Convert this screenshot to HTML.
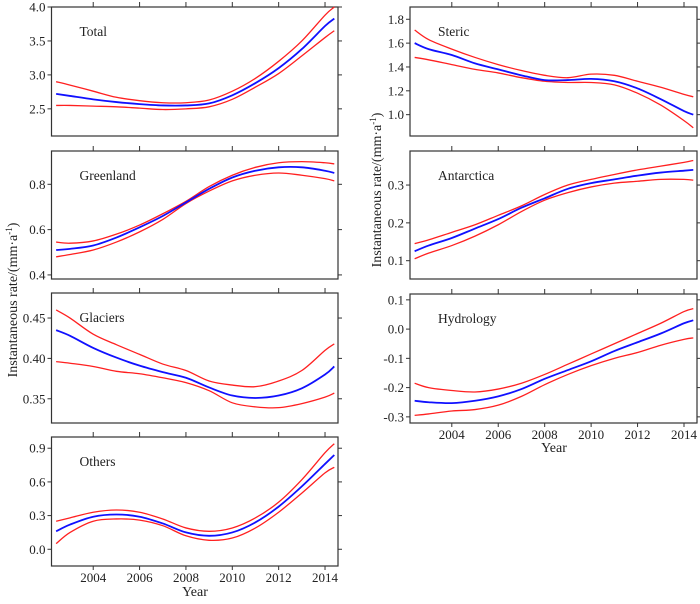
<!DOCTYPE html>
<html><head><meta charset="utf-8"><style>
body{margin:0;background:#fff;}
svg, svg text, svg tspan{font-family:"Liberation Serif","Times New Roman",serif !important;}
svg text{fill:#222;}
</style></head><body>
<svg id="c" width="700" height="599" viewBox="0 0 700 599" xmlns="http://www.w3.org/2000/svg" font-family="'Liberation Serif', serif" style="font-family:'Liberation Serif',serif">
<text transform="translate(17,300) rotate(-90)" text-anchor="middle" font-size="14">Instantaneous rate/(mm·a<tspan font-size="9" dy="-5">-1</tspan><tspan dy="5">)</tspan></text>
<text transform="translate(381,190) rotate(-90)" text-anchor="middle" font-size="14">Instantaneous rate/(mm·a<tspan font-size="9" dy="-5">-1</tspan><tspan dy="5">)</tspan></text>
<text x="195" y="596" text-anchor="middle" font-size="14">Year</text>
<text x="554" y="452" text-anchor="middle" font-size="14">Year</text>
</svg>
<script>
const years=[2002.4,2003,2004,2005,2006,2007,2008,2009,2010,2011,2012,2013,2014,2014.4];
const xTicks=[2004,2006,2008,2010,2012,2014];
const totalMid=[2.72,2.69,2.64,2.60,2.57,2.55,2.55,2.58,2.70,2.88,3.10,3.38,3.72,3.83];
const totalUp=[2.90,2.85,2.76,2.67,2.62,2.59,2.59,2.63,2.76,2.95,3.20,3.50,3.88,4.0];
const totalLo=[2.55,2.55,2.54,2.53,2.51,2.49,2.50,2.53,2.64,2.82,3.02,3.28,3.55,3.65];
const greenMid=[0.51,0.515,0.53,0.565,0.61,0.66,0.72,0.78,0.83,0.86,0.875,0.875,0.86,0.85];
const greenUp=[0.545,0.54,0.55,0.58,0.62,0.67,0.725,0.79,0.84,0.875,0.895,0.90,0.895,0.89];
const greenLo=[0.48,0.49,0.51,0.545,0.59,0.645,0.715,0.77,0.815,0.84,0.85,0.84,0.825,0.815];
const glacMid=[0.435,0.428,0.413,0.401,0.391,0.383,0.376,0.364,0.354,0.351,0.354,0.363,0.380,0.390];
const glacUp=[0.46,0.45,0.43,0.417,0.405,0.393,0.385,0.372,0.367,0.365,0.372,0.385,0.410,0.418];
const glacLo=[0.396,0.394,0.390,0.384,0.381,0.376,0.370,0.360,0.345,0.340,0.339,0.344,0.352,0.357];
const othMid=[0.16,0.22,0.29,0.31,0.29,0.23,0.15,0.12,0.15,0.24,0.38,0.56,0.76,0.84];
const othUp=[0.25,0.28,0.33,0.35,0.33,0.27,0.19,0.16,0.19,0.28,0.42,0.62,0.86,0.94];
const othLo=[0.05,0.15,0.25,0.27,0.26,0.21,0.12,0.08,0.10,0.19,0.33,0.50,0.68,0.73];
const stericMid=[1.60,1.55,1.50,1.43,1.38,1.33,1.29,1.29,1.30,1.28,1.22,1.13,1.03,1.00];
const stericUp=[1.71,1.63,1.55,1.48,1.42,1.37,1.33,1.31,1.34,1.33,1.28,1.23,1.17,1.15];
const stericLo=[1.48,1.46,1.42,1.38,1.35,1.31,1.28,1.27,1.27,1.25,1.18,1.08,0.95,0.89];
const antMid=[0.125,0.14,0.16,0.185,0.21,0.24,0.265,0.29,0.305,0.315,0.325,0.333,0.338,0.340];
const antUp=[0.145,0.155,0.175,0.195,0.22,0.245,0.275,0.30,0.315,0.328,0.34,0.35,0.36,0.365];
const antLo=[0.105,0.12,0.14,0.165,0.195,0.23,0.26,0.28,0.295,0.305,0.31,0.315,0.315,0.313];
const hydMid=[-0.245,-0.25,-0.253,-0.245,-0.23,-0.205,-0.17,-0.14,-0.11,-0.075,-0.045,-0.015,0.02,0.03];
const hydUp=[-0.185,-0.20,-0.21,-0.215,-0.205,-0.185,-0.155,-0.12,-0.085,-0.05,-0.015,0.02,0.06,0.07];
const hydLo=[-0.295,-0.29,-0.28,-0.275,-0.26,-0.23,-0.19,-0.155,-0.125,-0.10,-0.08,-0.055,-0.035,-0.03];
const totalTicks=[2.5,3.0,3.5,4.0],greenTicks=[0.4,0.6,0.8],glacTicks=[0.35,0.40,0.45],othTicks=[0.0,0.3,0.6,0.9];
const stericTicks=[1.0,1.2,1.4,1.6,1.8],antTicks=[0.1,0.2,0.3],hydTicks=[-0.3,-0.2,-0.1,0.0,0.1];

const svg=document.getElementById('c');const NS='http://www.w3.org/2000/svg';
function mk(tag,attrs,parent){const e=document.createElementNS(NS,tag);for(const k in attrs)e.setAttribute(k,attrs[k]);(parent||svg).appendChild(e);return e;}
function panel(name,label,box,ymin,ymax,ticks,dec,mid,up,lo,bottomLabels){
  const [x0,y0,x1,y1]=box;
  const g=mk('g',{});
  
  
  const xs=v=>x0+(v-2002.2)/(12.36)*(x1-x0);
  const ys=v=>y1-(v-ymin)/(ymax-ymin)*(y1-y0);
  const r=mk('rect',{x:x0,y:y0,width:x1-x0,height:y1-y0,fill:'none',stroke:'#333','stroke-width':1.2},g);
  
  
  xTicks.forEach(t=>{mk('line',{x1:xs(t),x2:xs(t),y1:y0,y2:y0-5,stroke:'#333'},g);
    if(bottomLabels){mk('line',{x1:xs(t),x2:xs(t),y1:y1,y2:y1+4,stroke:'#333'},g);
      const tx=mk('text',{x:xs(t),y:y1+16,'text-anchor':'middle','font-size':13,'font-family':'Liberation Serif, serif'},g);tx.textContent=t;
      
      }});
  ticks.forEach(t=>{const y=ys(t);mk('line',{x1:x0,x2:x0-4,y1:y,y2:y,stroke:'#333'},g);mk('line',{x1:x1,x2:x1+4,y1:y,y2:y,stroke:'#333'},g);
    const tx=mk('text',{x:x0-6,y:y+4.5,'text-anchor':'end','font-size':13,'font-family':'Liberation Serif, serif'},g);tx.textContent=t.toFixed(dec);
    
    });
  const lt=mk('text',{x:x0+28,y:y0+29,'font-size':13.5,'font-family':'Liberation Serif, serif'},g);lt.textContent=label;
  
  
  function path(arr,color,w,nm){const p=arr.map((v,i)=>[xs(years[i]),ys(v)]);let d='M'+p[0][0]+','+p[0][1];
    for(let i=0;i<p.length-1;i++){const a=p[Math.max(0,i-1)],b=p[i],c=p[i+1],e=p[Math.min(p.length-1,i+2)];
      d+=' C'+(b[0]+(c[0]-a[0])/6)+','+(b[1]+(c[1]-a[1])/6)+' '+(c[0]-(e[0]-b[0])/6)+','+(c[1]-(e[1]-b[1])/6)+' '+c[0]+','+c[1];}
    const pe=mk('path',{d:d,fill:'none',stroke:color,'stroke-width':w},g);
    
    }
  path(up,'#ff2020',1.3,name+'-upper-bound');path(lo,'#ff2020',1.3,name+'-lower-bound');path(mid,'#1010ff',1.8,name+'-mean-line');
}
panel('total','Total',[51.5,7,338,136],2.1,4.0,totalTicks,1,totalMid,totalUp,totalLo,false);
panel('greenland','Greenland',[51.5,151,338,279],0.382,0.947,greenTicks,1,greenMid,greenUp,greenLo,false);
panel('glaciers','Glaciers',[51.5,293,338,423],0.320,0.481,glacTicks,2,glacMid,glacUp,glacLo,false);
panel('others','Others',[51.5,437,338,566],-0.149,1.0,othTicks,1,othMid,othUp,othLo,true);
panel('steric','Steric',[410,7,697,136],0.821,1.903,stericTicks,1,stericMid,stericUp,stericLo,false);
panel('antarctica','Antarctica',[410,151,697,279],0.0516,0.39,antTicks,1,antMid,antUp,antLo,false);
panel('hydrology','Hydrology',[410,294,697,423],-0.321,0.12,hydTicks,1,hydMid,hydUp,hydLo,true);
</script>
</body></html>
